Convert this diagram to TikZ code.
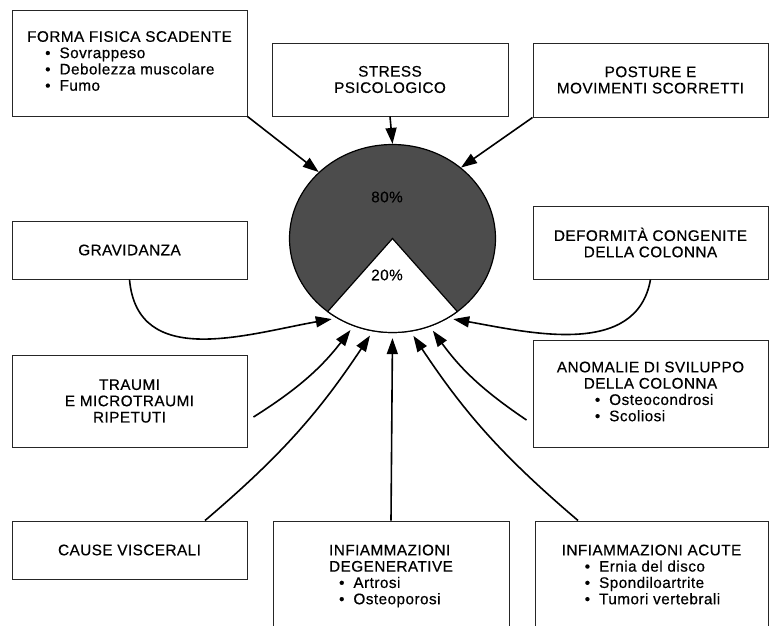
\documentclass[tikz,border=0pt]{standalone}
\usepackage{fontspec}
\setmainfont{Liberation Sans}[LetterSpace=3,FakeBold=0.5]
\usetikzlibrary{arrows.meta,shapes.geometric}
\newcommand{\voce}[2][0pt]{\hspace*{#1}\textbullet\hspace{9pt}#2}
\newcommand{\titolo}[1]{\multicolumn{1}{@{}c@{}}{#1}}

\begin{document}
\begin{tikzpicture}[x=1pt,y=-1pt,font=\fontsize{15.3}{16.3}\selectfont]
        \tikzstyle{causa}=[rectangle,draw=black!85,line width=1pt,minimum width=235pt,inner sep=0pt]
        \tikzstyle{freccia}=[draw,line width=1.6pt,-{Triangle[length=16pt,width=11pt]}]
        \useasboundingbox (0,0) rectangle (769,625);
        % cerchio 80% / 20%
        \node [ellipse,draw,line width=1.2pt,fill=black!70,minimum width=206pt,minimum height=188pt,inner sep=0pt] (dolore) at (392.5,238.5) {};
        \filldraw [fill=white,line width=1.2pt] (dolore.center) -- ++(51:103 and 94) arc [start angle=51,end angle=129,x radius=103,y radius=94] -- cycle;
        \node (ottanta) at (387,197) {80\%};
        \node (venti) at (387,275) {20\%};
        % riquadri
        \node [causa,minimum height=106pt] (forma) at (129.5,63) {\begin{tabular}{@{}l@{}}FORMA FISICA SCADENTE\\ \voce[18pt]{Sovrappeso}\\ \voce[18pt]{Debolezza muscolare}\\ \voce[18pt]{Fumo}\end{tabular}};
        \node [causa,minimum width=236pt,minimum height=73pt,align=center] (stress) at (390,79.5) {STRESS\\PSICOLOGICO};
        \node [causa,minimum height=74pt,align=center] (posture) at (650.5,80) {POSTURE E\\MOVIMENTI SCORRETTI};
        \node [causa,minimum height=58pt] (grav) at (129.5,250) {GRAVIDANZA};
        \node [causa,minimum height=73pt,align=center] (deform) at (650.5,242.5) {DEFORMITÀ CONGENITE\\DELLA COLONNA};
        \node [causa,minimum height=92pt,align=center] (traumi) at (129.5,401) {TRAUMI\\E MICROTRAUMI\\RIPETUTI};
        \node [causa,minimum height=107pt] (anomalie) at (650.5,393.5) {\begin{tabular}{@{}l@{}}ANOMALIE DI SVILUPPO\\ \titolo{DELLA COLONNA}\\ \voce[38pt]{Osteocondrosi}\\ \voce[38pt]{Scoliosi}\end{tabular}};
        \node [causa,minimum height=58pt] (cause) at (129.5,550) {CAUSE VISCERALI};
        \node [causa,minimum width=236pt,minimum height=111pt] (degen) at (391,576.5) {\begin{tabular}{@{}l@{}}INFIAMMAZIONI\\ \titolo{DEGENERATIVE}\\ \voce[10pt]{Artrosi}\\ \voce[10pt]{Osteoporosi}\end{tabular}};
        \node [causa,minimum width=233pt,minimum height=111pt] (acute) at (651.5,576.5) {\begin{tabular}{@{}l@{}}INFIAMMAZIONI ACUTE\\ \voce[23pt]{Ernia del disco}\\ \voce[23pt]{Spondiloartrite}\\ \voce[23pt]{Tumori vertebrali}\end{tabular}};
        % frecce
        \path [freccia] (forma.south east) -- (dolore.138);
        \path [freccia] (stress.south) -- (dolore.north);
        \path [freccia] (posture.south west) -- (dolore.46);
        \path [freccia,shorten >=5pt] (grav.south) to [out=-85,in=190,looseness=1.1] (dolore.235);
        \path [freccia,shorten >=5pt] (deform.south) to [out=-100,in=-10] (dolore.305);
        \path [freccia,shorten >=5pt] ([xshift=6pt,yshift=-16pt]traumi.east) to [bend right=10] (dolore.246);
        \path [freccia,shorten >=5pt] ([xshift=75.5pt]cause.north) to [bend right=8] (dolore.258);
        \path [freccia,shorten >=5pt] (degen.north) -- (dolore.south);
        \path [freccia,shorten >=5pt] ([xshift=-73.5pt]acute.north) to [bend left=8] (dolore.281);
        \path [freccia,shorten >=5pt] ([xshift=-6pt,yshift=-26.5pt]anomalie.west) to [bend left=10] (dolore.293);
\end{tikzpicture}
\end{document}
